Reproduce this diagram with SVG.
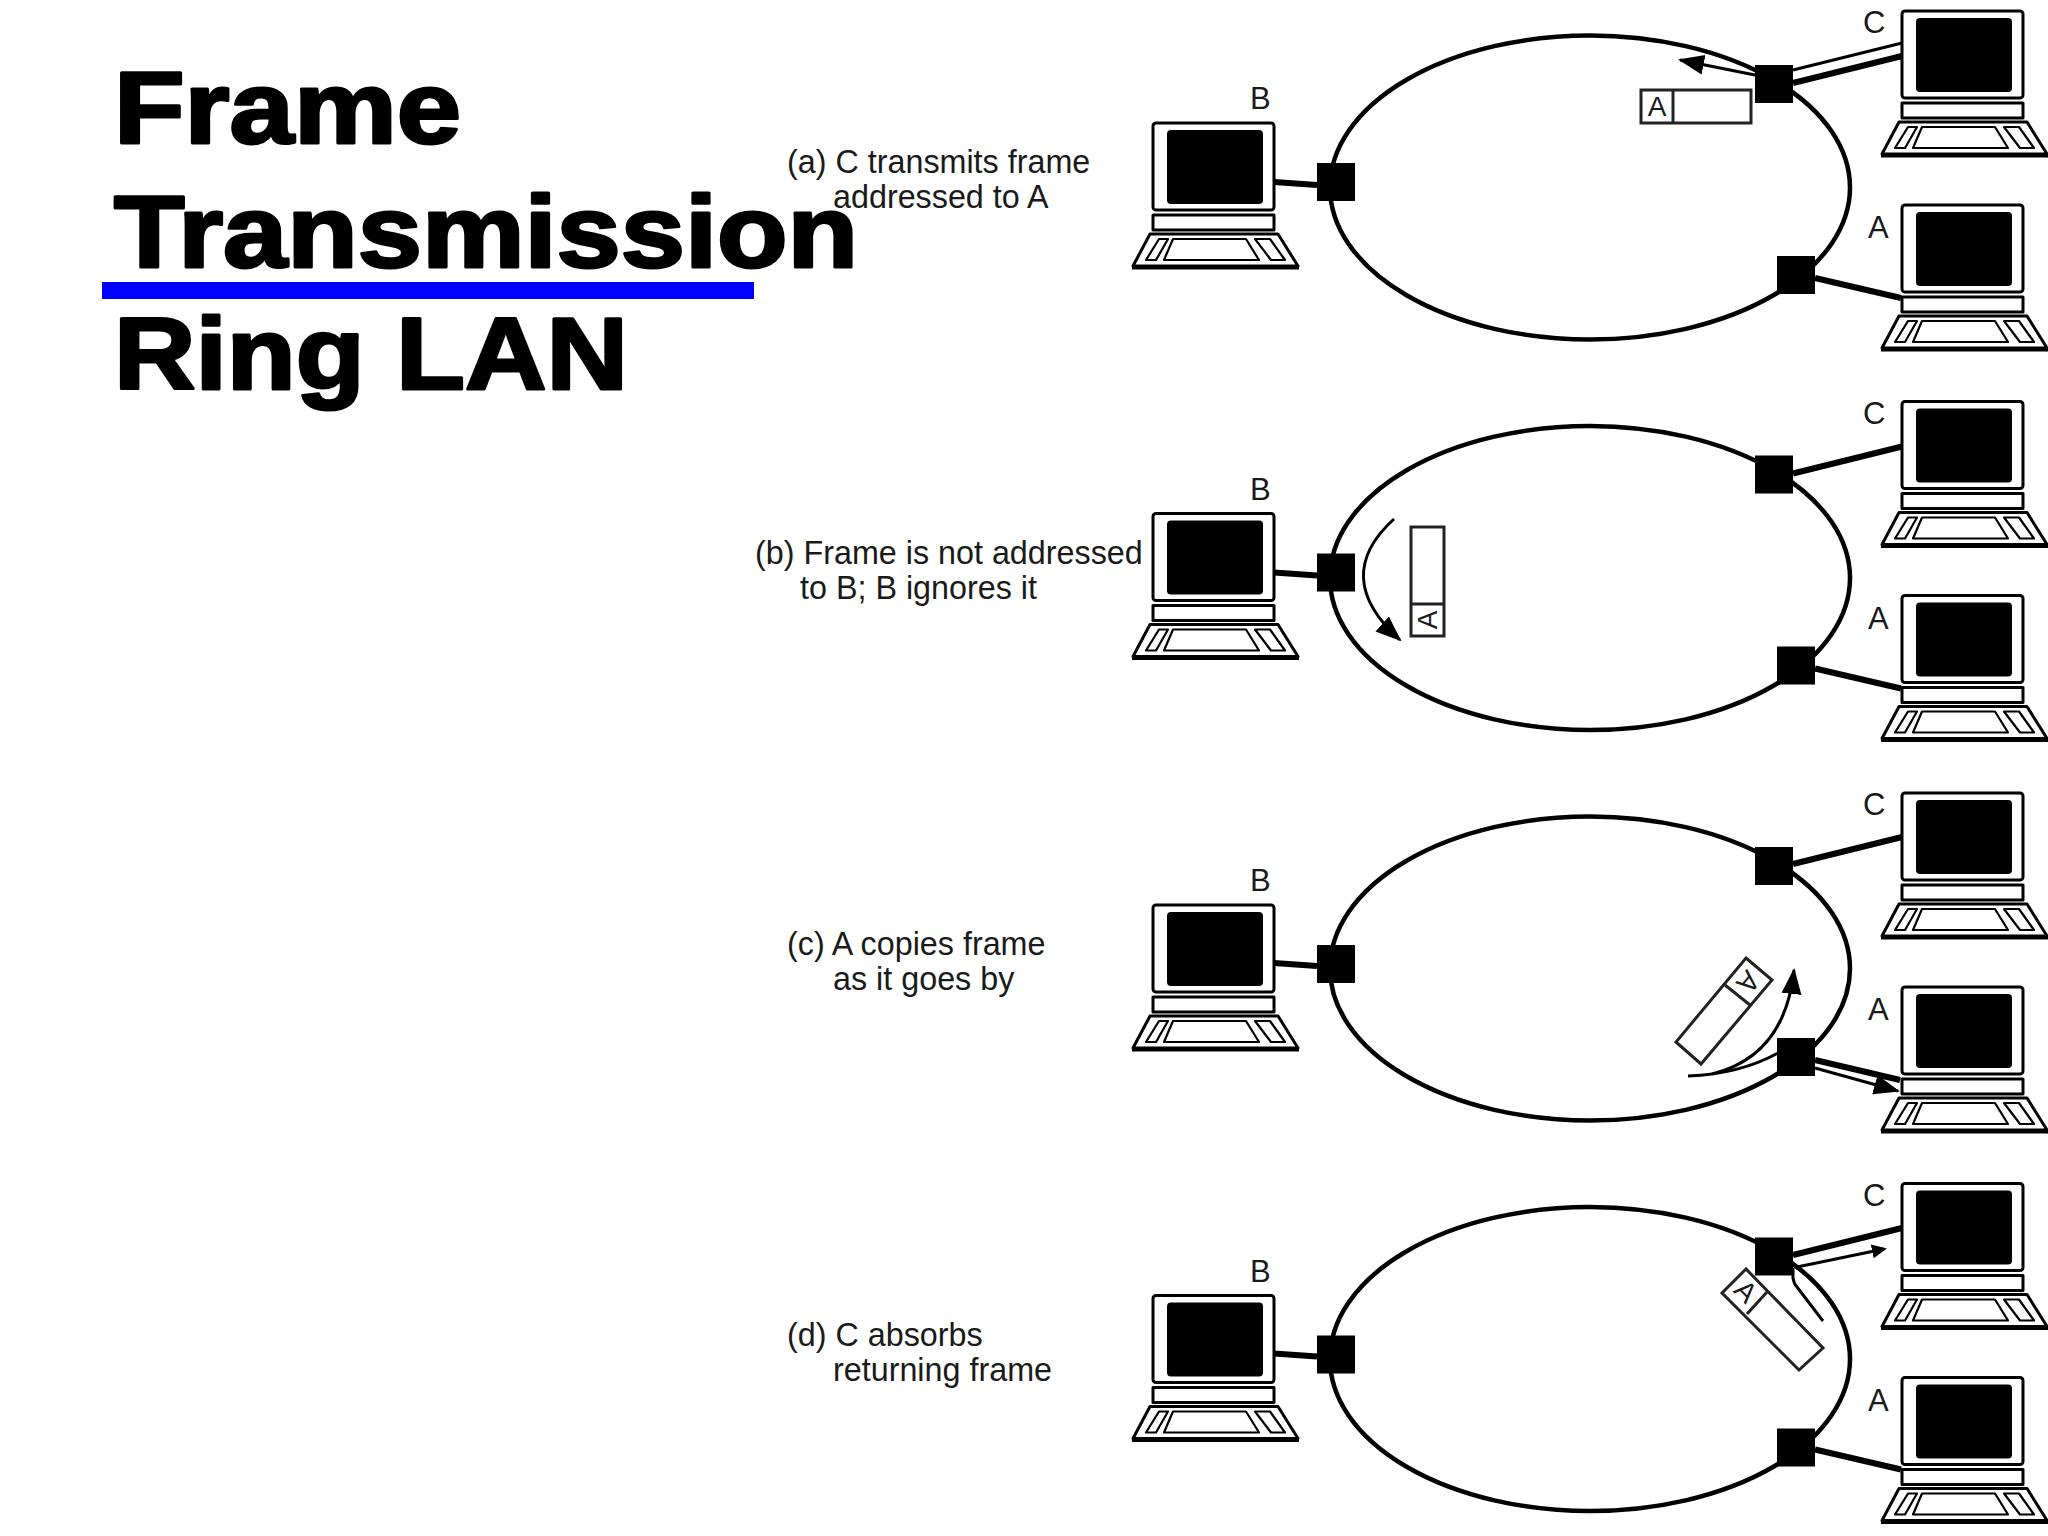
<svg xmlns="http://www.w3.org/2000/svg" width="2048" height="1536" viewBox="0 0 2048 1536">
<style>
text{font-family:"Liberation Sans",Arial,sans-serif;fill:#1a1a1a}
.title{font-size:102px;font-weight:700;fill:#000;stroke:#000;stroke-width:3px;stroke-linejoin:round}
.cap{font-size:32.300px}
.lbl{font-size:31px}
.ft{font-size:28px;text-anchor:middle}
.ring{fill:none;stroke:#000;stroke-width:4.500}
.thick{fill:none;stroke:#000;stroke-width:6}
.thin{fill:none;stroke:#000;stroke-width:3}
.frame{fill:#fff;stroke:#222;stroke-width:3}
.pc{fill:#fff;stroke:#000;stroke-width:3;stroke-linejoin:round}
.key{fill:#fff;stroke:#000;stroke-width:2.200;stroke-linejoin:round}
</style>
<defs>
<marker id="head" markerUnits="userSpaceOnUse" markerWidth="30" markerHeight="24" viewBox="0 0 30 24" refX="24" refY="12" orient="auto"><polygon points="0,2 26,12 0,22"/></marker>
<marker id="headS" markerUnits="userSpaceOnUse" markerWidth="18" markerHeight="18" viewBox="0 0 18 18" refX="12" refY="9" orient="auto"><polygon points="0,2 15,9 0,16"/></marker>
<g id="computer">
<rect class="pc" x="0" y="0" width="121" height="87" rx="3"/>
<rect x="14" y="7" width="96" height="74" rx="4" fill="#000"/>
<rect class="pc" x="0" y="92" width="121" height="15"/>
<polygon class="pc" points="-3,111 125,111 145,143 -20,143"/>
<line x1="-21" y1="144.500" x2="146" y2="144.500" stroke="#000" stroke-width="4"/>
<polygon class="key" points="6,116 15,116 3,137 -7,137"/>
<polygon class="key" points="20,116 93,116 106,137 11,137"/>
<polygon class="key" points="102,116 117,116 132,137 118,137"/>
</g>
<rect id="tap" width="38" height="38" fill="#000"/>
</defs>
<rect width="2048" height="1536" fill="#fff"/>
<g id="title">
<text class="title" x="114" y="143" textLength="347" lengthAdjust="spacingAndGlyphs">Frame</text>
<text class="title" x="114" y="267" textLength="744" lengthAdjust="spacingAndGlyphs">Transmission</text>
<text class="title" x="114" y="389" textLength="514" lengthAdjust="spacingAndGlyphs">Ring LAN</text>
<rect x="102" y="282" width="652" height="17" fill="#0000ff"/>
</g>
<g id="connectors">
<ellipse class="ring" cx="1590" cy="187.500" rx="260" ry="152"/>
<ellipse class="ring" cx="1590" cy="578" rx="260" ry="152"/>
<ellipse class="ring" cx="1590" cy="968.500" rx="260" ry="152"/>
<ellipse class="ring" cx="1590" cy="1359" rx="260" ry="152"/>
<path class="thick" d="M1274,182L1317,185M1274,572.500L1317,575.500M1274,963L1317,966M1274,1353.500L1317,1356.500"/>
<path class="thick" d="M1815,278L1901,298M1815,668.500L1901,688.500M1815,1449.500L1901,1469.500"/>
<path class="thick" d="M1793,83L1902,56M1793,473.500L1902,446.500M1793,864L1902,837M1793,1255L1902,1228"/>
<path class="thin" d="M1793,70L1902,43"/>
<path class="thick" d="M1815,1060L1900,1080"/>
<path class="thin" marker-end="url(#head)" d="M1755,75L1680,60"/>
<path class="thin" marker-end="url(#head)" d="M1394,519Q1330,577 1400,640"/>
<path class="thin" d="M1688,1076Q1740,1074 1778,1053"/>
<path class="thin" marker-end="url(#head)" d="M1712,1074Q1785,1056 1794,970"/>
<path class="thin" marker-end="url(#head)" d="M1815,1068L1898,1091"/>
<path class="thin" marker-end="url(#headS)" d="M1797,1267L1884,1249"/>
<path class="thin" d="M1793,1268L1793,1278Q1794,1284 1797,1287L1823,1321"/>
</g>
<g id="panel-a">
<text class="cap" x="787" y="173">(a) C transmits frame</text>
<text class="cap" x="833" y="208">addressed to A</text>
<g id="a-B"><use href="#computer" x="1153" y="123"/><text class="lbl" x="1250" y="109">B</text></g>
<g id="a-C"><use href="#computer" x="1902" y="11"/><text class="lbl" x="1863" y="33">C</text></g>
<g id="a-A"><use href="#computer" x="1902" y="205"/><text class="lbl" x="1868" y="238">A</text></g>
<use id="a-tap-B" href="#tap" x="1317" y="163"/>
<use id="a-tap-C" href="#tap" x="1755" y="65"/>
<use id="a-tap-A" href="#tap" x="1777" y="256"/>
<g id="a-frame"><rect class="frame" x="1641" y="90" width="110" height="33"/><line class="frame" x1="1673" y1="90" x2="1673" y2="123"/><text class="ft" x="1657" y="116">A</text></g>
</g>
<g id="panel-b">
<text class="cap" x="755" y="564">(b) Frame is not addressed</text>
<text class="cap" x="800" y="599">to B; B ignores it</text>
<g id="b-B"><use href="#computer" x="1153" y="513.500"/><text class="lbl" x="1250" y="499.500">B</text></g>
<g id="b-C"><use href="#computer" x="1902" y="401.500"/><text class="lbl" x="1863" y="423.500">C</text></g>
<g id="b-A"><use href="#computer" x="1902" y="595.500"/><text class="lbl" x="1868" y="628.500">A</text></g>
<use id="b-tap-B" href="#tap" x="1317" y="553.500"/>
<use id="b-tap-C" href="#tap" x="1755" y="455.500"/>
<use id="b-tap-A" href="#tap" x="1777" y="646.500"/>
<g id="b-frame"><rect class="frame" x="1411" y="527" width="33" height="109"/><line class="frame" x1="1411" y1="604" x2="1444" y2="604"/><text class="ft" transform="translate(1437,620) rotate(-90)">A</text></g>
</g>
<g id="panel-c">
<text class="cap" x="787" y="955">(c) A copies frame</text>
<text class="cap" x="833" y="990">as it goes by</text>
<g id="c-B"><use href="#computer" x="1153" y="905"/><text class="lbl" x="1250" y="891">B</text></g>
<g id="c-C"><use href="#computer" x="1902" y="793"/><text class="lbl" x="1863" y="815">C</text></g>
<g id="c-A"><use href="#computer" x="1902" y="987"/><text class="lbl" x="1868" y="1020">A</text></g>
<use id="c-tap-B" href="#tap" x="1317" y="945"/>
<use id="c-tap-C" href="#tap" x="1755" y="847"/>
<use id="c-tap-A" href="#tap" x="1777" y="1038"/>
<g id="c-frame"><polygon class="frame" points="1746,958 1772,980 1701,1064 1676,1042"/><line class="frame" x1="1725" y1="985" x2="1750" y2="1005"/><text class="ft" transform="translate(1741,976) rotate(130)">A</text></g>
</g>
<g id="panel-d">
<text class="cap" x="787" y="1346">(d) C absorbs</text>
<text class="cap" x="833" y="1381">returning frame</text>
<g id="d-B"><use href="#computer" x="1153" y="1295.500"/><text class="lbl" x="1250" y="1281.500">B</text></g>
<g id="d-C"><use href="#computer" x="1902" y="1183.500"/><text class="lbl" x="1863" y="1205.500">C</text></g>
<g id="d-A"><use href="#computer" x="1902" y="1377.500"/><text class="lbl" x="1868" y="1410.500">A</text></g>
<use id="d-tap-B" href="#tap" x="1317" y="1335.500"/>
<use id="d-tap-C" href="#tap" x="1755" y="1237.500"/>
<use id="d-tap-A" href="#tap" x="1777" y="1428.500"/>
<g id="d-frame"><polygon class="frame" points="1746,1269 1722,1293 1799,1370 1823,1348"/><line class="frame" x1="1767" y1="1292" x2="1747" y2="1314"/><text class="ft" transform="translate(1739,1298) rotate(45)">A</text></g>
</g>
</svg>
